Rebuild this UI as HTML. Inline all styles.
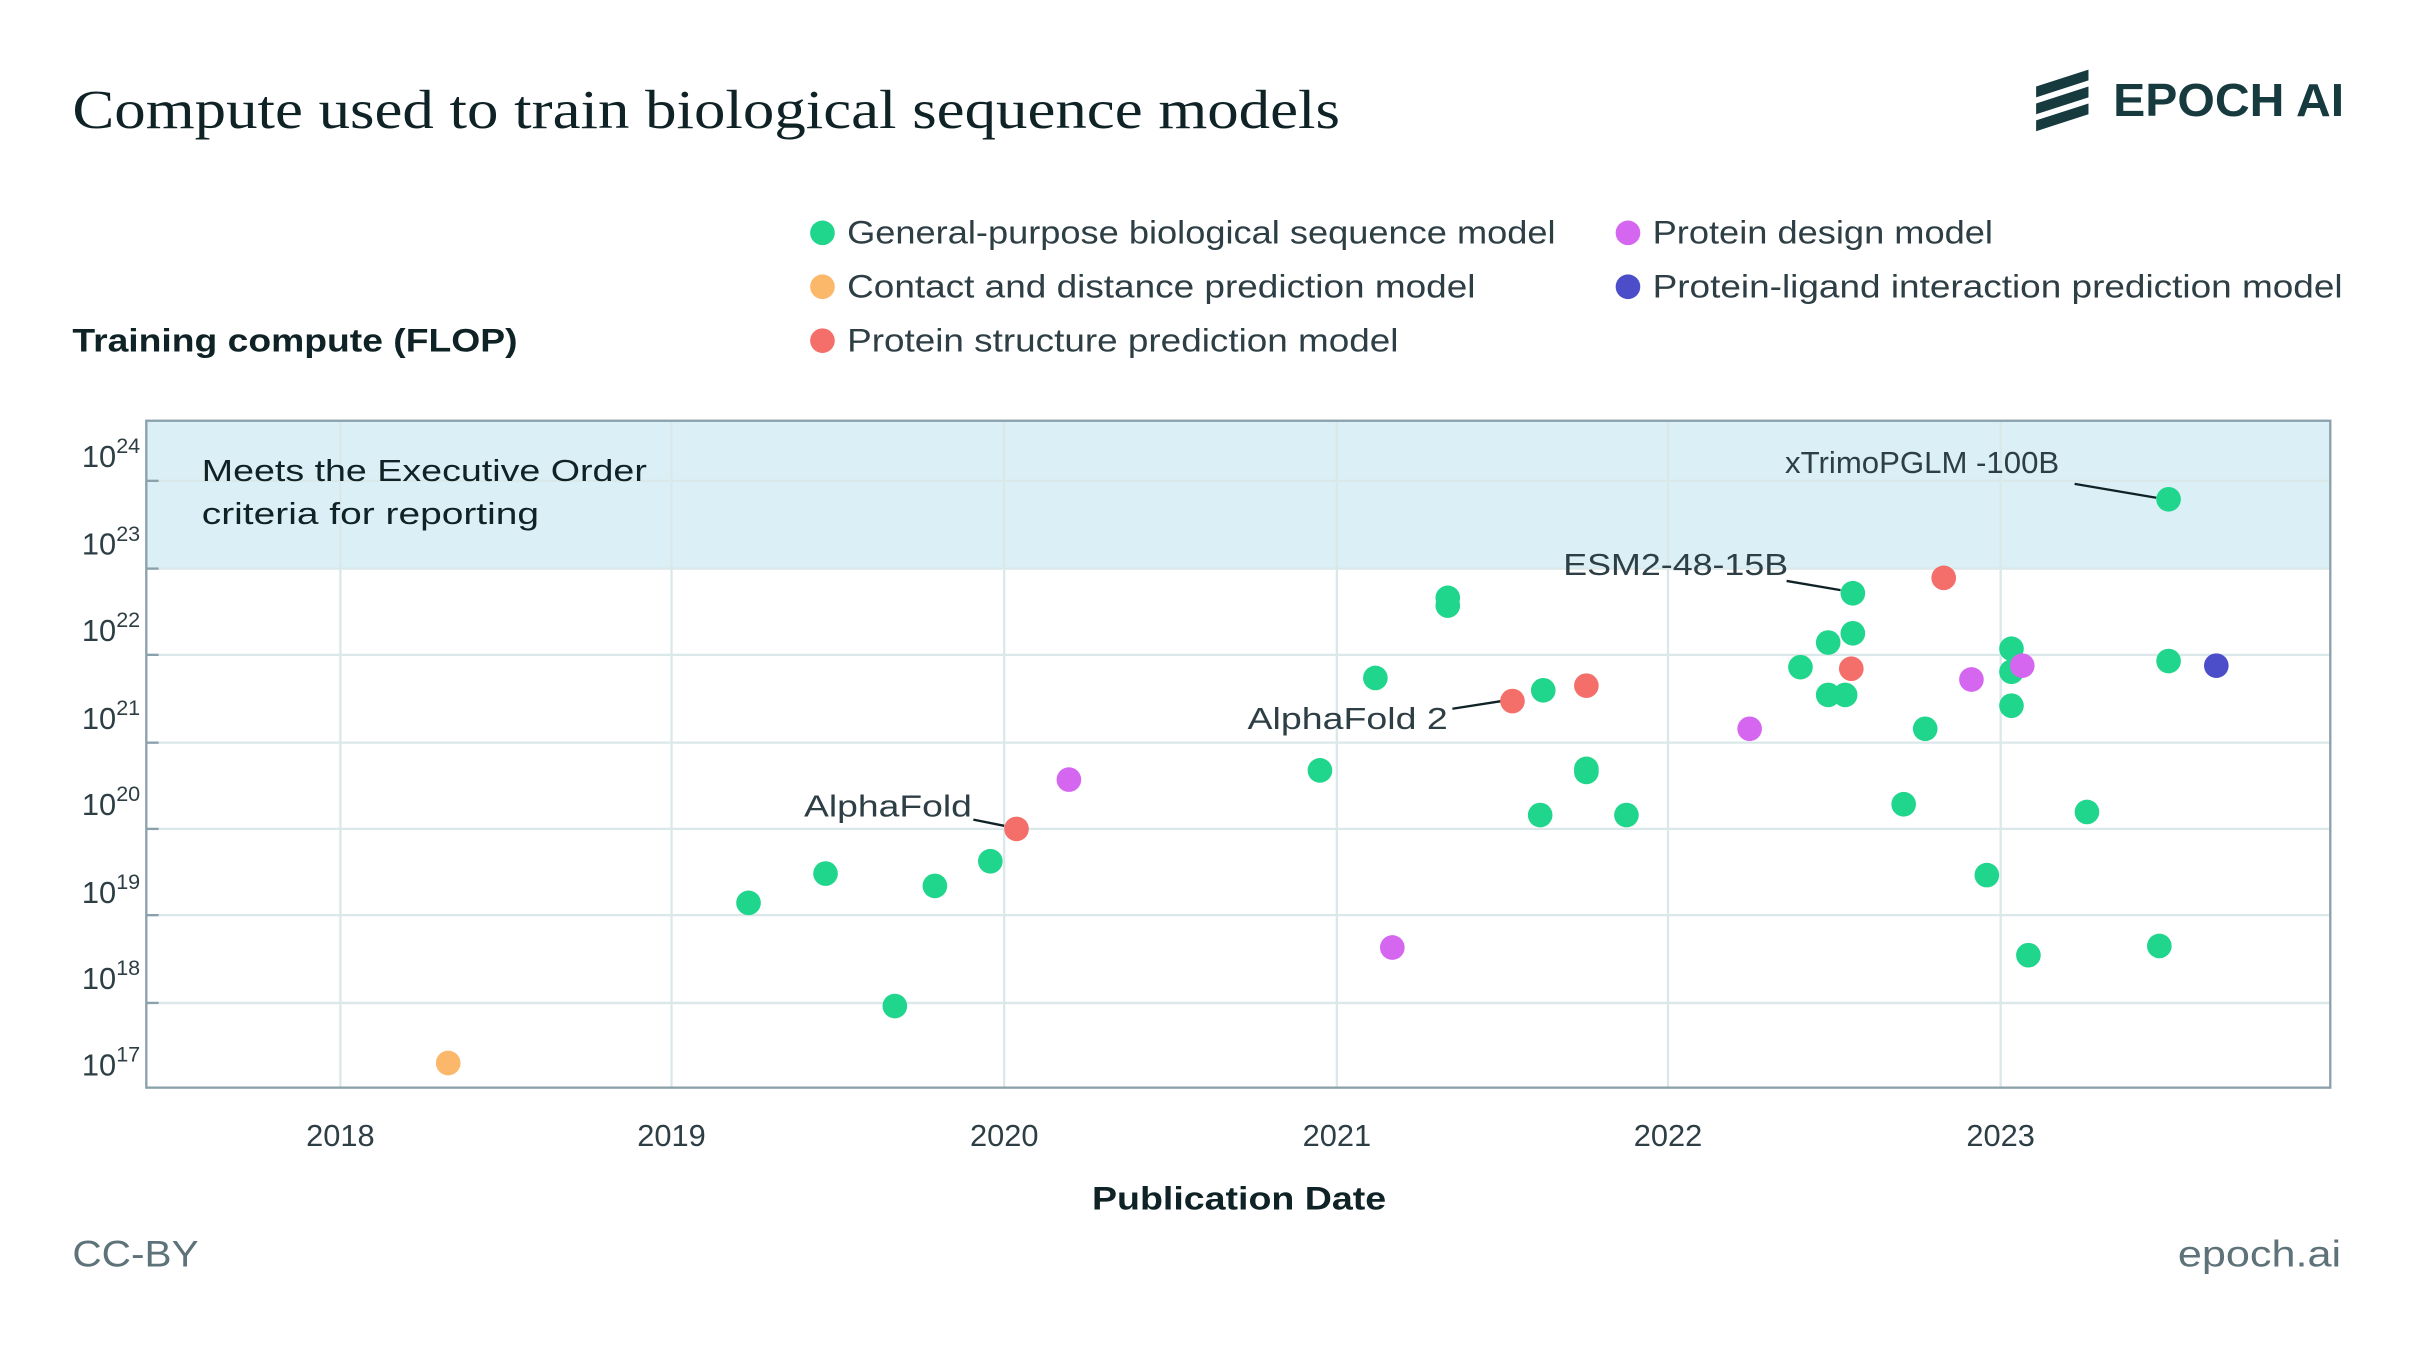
<!DOCTYPE html>
<html><head><meta charset="utf-8"><style>html,body{margin:0;padding:0;background:#fff}svg{display:block}</style></head>
<body>
<svg width="2415" height="1359" viewBox="0 0 1568 882" xmlns="http://www.w3.org/2000/svg" font-family="Liberation Sans, sans-serif">
<rect width="1568" height="882" fill="#fff"/>
<text x="47" y="83" font-family="Liberation Serif, serif" font-size="36" fill="#0f2326" textLength="823" lengthAdjust="spacingAndGlyphs">Compute used to train biological sequence models</text>
<g fill="#163a3e">
<polygon points="1322,56 1356,45 1356,52 1322,63"/>
<polygon points="1322,67 1356,56 1356,63 1322,74"/>
<polygon points="1322,78 1356,67 1356,74 1322,85"/>
</g>
<text x="1372" y="75" font-size="30" font-weight="bold" fill="#163a3e" textLength="150" lengthAdjust="spacingAndGlyphs">EPOCH AI</text>
<g font-size="21" fill="#2d3e44">
<circle cx="534" cy="151" r="8" fill="#20d58c"/><text x="550" y="158" textLength="460" lengthAdjust="spacingAndGlyphs">General-purpose biological sequence model</text>
<circle cx="534" cy="186" r="8" fill="#fcb86a"/><text x="550" y="193" textLength="408" lengthAdjust="spacingAndGlyphs">Contact and distance prediction model</text>
<circle cx="534" cy="221" r="8" fill="#f46e6a"/><text x="550" y="228" textLength="358" lengthAdjust="spacingAndGlyphs">Protein structure prediction model</text>
<circle cx="1057" cy="151" r="8" fill="#d566f0"/><text x="1073" y="158" textLength="221" lengthAdjust="spacingAndGlyphs">Protein design model</text>
<circle cx="1057" cy="186" r="8" fill="#4c4dc8"/><text x="1073" y="193" textLength="448" lengthAdjust="spacingAndGlyphs">Protein-ligand interaction prediction model</text>
</g>
<text x="47" y="228" font-size="21" font-weight="bold" fill="#0f2326" textLength="289" lengthAdjust="spacingAndGlyphs">Training compute (FLOP)</text>
<rect x="95" y="273" width="1418" height="96" fill="#daf0f6"/>
<g stroke="#dbe8ea" stroke-width="1.5">
<line x1="95" x2="1513" y1="312" y2="312"/><line x1="95" x2="1513" y1="369" y2="369"/>
<line x1="95" x2="1513" y1="425" y2="425"/><line x1="95" x2="1513" y1="482" y2="482"/>
<line x1="95" x2="1513" y1="538" y2="538"/><line x1="95" x2="1513" y1="594" y2="594"/>
<line x1="95" x2="1513" y1="651" y2="651"/>
<line x1="221" x2="221" y1="273" y2="706"/><line x1="436" x2="436" y1="273" y2="706"/>
<line x1="652" x2="652" y1="273" y2="706"/><line x1="868" x2="868" y1="273" y2="706"/>
<line x1="1083" x2="1083" y1="273" y2="706"/><line x1="1299" x2="1299" y1="273" y2="706"/>
</g>
<g stroke="#8aa0ab" stroke-width="1.5">
<line x1="95" x2="103" y1="312" y2="312"/><line x1="95" x2="103" y1="369" y2="369"/>
<line x1="95" x2="103" y1="425" y2="425"/><line x1="95" x2="103" y1="482" y2="482"/>
<line x1="95" x2="103" y1="538" y2="538"/><line x1="95" x2="103" y1="594" y2="594"/>
<line x1="95" x2="103" y1="651" y2="651"/>
</g>
<rect x="95" y="273" width="1418" height="433" fill="none" stroke="#8aa0ab" stroke-width="1.5"/>
<text x="131" y="312" font-size="20" fill="#0f2326" textLength="289" lengthAdjust="spacingAndGlyphs">Meets the Executive Order</text>
<text x="131" y="340" font-size="20" fill="#0f2326" textLength="219" lengthAdjust="spacingAndGlyphs">criteria for reporting</text>
<g font-size="20" fill="#2d3e44" text-anchor="end">
<text x="91" y="303">10<tspan dy="-9" font-size="14">24</tspan></text>
<text x="91" y="360">10<tspan dy="-9" font-size="14">23</tspan></text>
<text x="91" y="416">10<tspan dy="-9" font-size="14">22</tspan></text>
<text x="91" y="473">10<tspan dy="-9" font-size="14">21</tspan></text>
<text x="91" y="529">10<tspan dy="-9" font-size="14">20</tspan></text>
<text x="91" y="586">10<tspan dy="-9" font-size="14">19</tspan></text>
<text x="91" y="642">10<tspan dy="-9" font-size="14">18</tspan></text>
<text x="91" y="698">10<tspan dy="-9" font-size="14">17</tspan></text>
</g>
<g font-size="20" fill="#2d3e44" text-anchor="middle">
<text x="221" y="744">2018</text><text x="436" y="744">2019</text><text x="652" y="744">2020</text>
<text x="868" y="744">2021</text><text x="1083" y="744">2022</text><text x="1299" y="744">2023</text>
</g>
<text x="709" y="785" font-size="21" font-weight="bold" fill="#0f2326" textLength="191" lengthAdjust="spacingAndGlyphs">Publication Date</text>
<text x="47" y="822" font-size="24" fill="#5e7379" textLength="82" lengthAdjust="spacingAndGlyphs">CC-BY</text>
<text x="1414" y="822" font-size="24" fill="#5e7379" textLength="106" lengthAdjust="spacingAndGlyphs">epoch.ai</text>
<g stroke="#0f2326" stroke-width="1.5">
<line x1="632" y1="532" x2="652" y2="536"/>
<line x1="943" y1="460" x2="975" y2="455"/>
<line x1="1160" y1="377" x2="1195" y2="383"/>
<line x1="1347" y1="314" x2="1400" y2="323"/>
</g>
<g font-size="20" fill="#2d3e44">
<text x="522" y="530" textLength="109" lengthAdjust="spacingAndGlyphs">AlphaFold</text>
<text x="810" y="473" textLength="130" lengthAdjust="spacingAndGlyphs">AlphaFold 2</text>
<text x="1015" y="373" textLength="146" lengthAdjust="spacingAndGlyphs">ESM2-48-15B</text>
<text x="1159" y="307" textLength="178" lengthAdjust="spacingAndGlyphs">xTrimoPGLM -100B</text>
</g>
<g fill="#20d58c">
<circle cx="486" cy="586" r="8"/><circle cx="536" cy="567" r="8"/><circle cx="581" cy="653" r="8"/><circle cx="607" cy="575" r="8"/><circle cx="643" cy="559" r="8"/><circle cx="857" cy="500" r="8"/><circle cx="893" cy="440" r="8"/><circle cx="940" cy="388" r="8"/><circle cx="940" cy="393" r="8"/><circle cx="1002" cy="448" r="8"/><circle cx="1000" cy="529" r="8"/><circle cx="1030" cy="499" r="8"/><circle cx="1030" cy="501" r="8"/><circle cx="1056" cy="529" r="8"/><circle cx="1169" cy="433" r="8"/><circle cx="1187" cy="417" r="8"/><circle cx="1187" cy="451" r="8"/><circle cx="1198" cy="451" r="8"/><circle cx="1203" cy="385" r="8"/><circle cx="1203" cy="411" r="8"/><circle cx="1236" cy="522" r="8"/><circle cx="1250" cy="473" r="8"/><circle cx="1290" cy="568" r="8"/><circle cx="1306" cy="421" r="8"/><circle cx="1306" cy="436" r="8"/><circle cx="1306" cy="458" r="8"/><circle cx="1317" cy="620" r="8"/><circle cx="1355" cy="527" r="8"/><circle cx="1402" cy="614" r="8"/><circle cx="1408" cy="324" r="8"/><circle cx="1408" cy="429" r="8"/>
</g>
<circle cx="291" cy="690" r="8" fill="#fcb86a"/>
<g fill="#f46e6a"><circle cx="660" cy="538" r="8"/><circle cx="982" cy="455" r="8"/><circle cx="1030" cy="445" r="8"/><circle cx="1202" cy="434" r="8"/><circle cx="1262" cy="375" r="8"/></g>
<g fill="#d566f0"><circle cx="694" cy="506" r="8"/><circle cx="904" cy="615" r="8"/><circle cx="1136" cy="473" r="8"/><circle cx="1280" cy="441" r="8"/><circle cx="1313" cy="432" r="8"/></g>
<circle cx="1439" cy="432" r="8" fill="#4c4dc8"/>
</svg>
</body></html>
